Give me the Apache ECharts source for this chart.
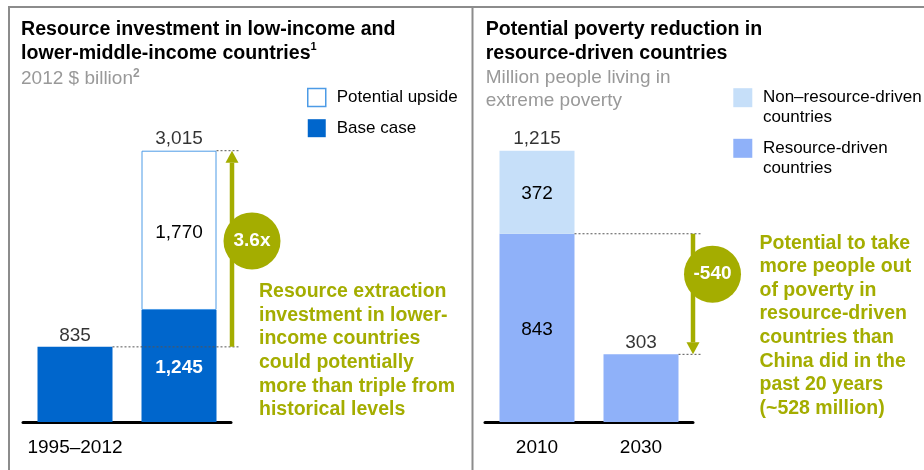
<!DOCTYPE html>
<html>
<head>
<meta charset="utf-8">
<style>body { margin: 0; }</style>
</head>
<body>
<div id="main" style="width:924px; height:470px;"></div>

<script src="https://cdn.jsdelivr.net/npm/echarts@6.0.0/dist/echarts.min.js"></script>
<script>
var leftCats = ['1995–2012', '2013–30'];
var leftBase = [835, 1245];
var leftUpside = [null, 1770];
var leftTotal = [835, 3015];

var rightCats = ['2010', '2030'];
var rightResource = [843, 303];
var rightNonResource = [372, null];
var rightTotal = [1215, 303];

var green = '#a4ad00';
var font = '"Liberation Sans", Arial, sans-serif';

var myChart = echarts.init(main);

function fmt(v) {
	return v == null ? '' : v.toLocaleString('en-US');
}

var axisX = {
	type: 'category',
	axisTick: { show: false },
	axisLine: { lineStyle: { color: '#000', width: 3 } },
	axisLabel: { fontSize: 19, color: '#000', margin: 16 }
};
var totalLabel = { show: true, position: 'top', distance: 2, fontSize: 19, color: '#000' };

myChart.setOption({
	animation: false,
	textStyle: { fontFamily: font },
	title: [
		{
			left: 21, top: 18, itemGap: 6, padding: 0,
			text: '{b|Resource investment in low-income and}\n{b|lower-middle-income countries}{s|1}',
			subtext: '{g|2012 $ billion}{s|2}',
			textStyle: {
				rich: {
					b: { fontSize: 19.6, fontWeight: 'bold', color: '#000', lineHeight: 23.7 },
					s: { fontSize: 11, color: '#000', lineHeight: 16, verticalAlign: 'top' }
				}
			},
			subtextStyle: {
				rich: {
					g: { fontSize: 19, color: '#999', lineHeight: 23 },
					s: { fontSize: 12, fontWeight: 'bold', color: '#999', lineHeight: 16, verticalAlign: 'top' }
				}
			}
		},
		{
			left: 485.7, top: 18, itemGap: 1, padding: 0,
			text: 'Potential poverty reduction in\nresource-driven countries',
			subtext: 'Million people living in\nextreme poverty',
			textStyle: { fontSize: 19.6, fontWeight: 'bold', color: '#000', lineHeight: 23.7 },
			subtextStyle: { fontSize: 19, color: '#999', lineHeight: 23 }
		}
	],
	legend: [
		{
			left: 307, top: 87.7, orient: 'vertical', padding: 0,
			itemWidth: 18, itemHeight: 18, itemGap: 12, icon: 'rect', selectedMode: false,
			textStyle: { fontSize: 17, color: '#000', padding: [0, 0, 0, 6] },
			data: [
				{ name: 'Potential upside', itemStyle: { color: '#fff', borderColor: '#4d9be6', borderWidth: 1.5 } },
				{ name: 'Base case' }
			]
		},
		{
			left: 733.3, top: 65.7, padding: 0,
			itemWidth: 19, itemHeight: 19, icon: 'rect', selectedMode: false,
			formatter: n => ' \n' + n,
			textStyle: { fontSize: 17, color: '#000', lineHeight: 20, padding: [4, 0, 0, 5.6] },
			data: ['Non–resource-driven\ncountries']
		},
		{
			left: 733.3, top: 116.3, padding: 0,
			itemWidth: 19, itemHeight: 19, icon: 'rect', selectedMode: false,
			formatter: n => ' \n' + n,
			textStyle: { fontSize: 17, color: '#000', lineHeight: 20, padding: [4, 0, 0, 5.6] },
			data: ['Resource-driven\ncountries']
		}
	],
	grid: [
		{ left: 23, top: 150.7, width: 208, bottom: 48 },
		{ left: 485, top: 150.7, width: 208, bottom: 48 }
	],
	xAxis: [
		Object.assign({ gridIndex: 0, data: leftCats }, axisX),
		Object.assign({ gridIndex: 1, data: rightCats }, axisX)
	],
	yAxis: [
		{ gridIndex: 0, type: 'value', min: 0, max: 3015, show: false },
		{ gridIndex: 1, type: 'value', min: 0, max: 1215, show: false }
	],
	series: [
		{
			name: 'Base case', type: 'bar', xAxisIndex: 0, yAxisIndex: 0, stack: 'l', barWidth: 75,
			data: leftBase,
			itemStyle: { color: '#0066cc' },
			label: {
				show: true, position: 'inside', offset: [0, 2], color: '#fff', fontWeight: 'bold', fontSize: 19,
				formatter: p => p.dataIndex === 1 ? fmt(p.value) : ''
			}
		},
		{
			name: 'Potential upside', type: 'bar', xAxisIndex: 0, yAxisIndex: 0, stack: 'l', barWidth: 75,
			data: leftUpside,
			itemStyle: { color: '#fff', borderColor: '#4d9be6', borderWidth: 1 },
			label: { show: true, position: 'inside', offset: [0, 2], color: '#000', fontSize: 19, formatter: p => fmt(p.value) }
		},
		{
			type: 'scatter', xAxisIndex: 0, yAxisIndex: 0, silent: true,
			data: leftTotal, symbolSize: 0, itemStyle: { color: 'transparent' },
			label: Object.assign({ formatter: p => fmt(p.value[1] != null ? p.value[1] : p.value) }, totalLabel)
		},
		{
			name: 'Resource-driven\ncountries', type: 'bar', xAxisIndex: 1, yAxisIndex: 1, stack: 'r', barWidth: 75,
			data: rightResource,
			itemStyle: { color: '#8fb1f9' },
			label: {
				show: true, position: 'inside', offset: [0, 2], color: '#000', fontSize: 19,
				formatter: p => p.dataIndex === 0 ? fmt(p.value) : ''
			}
		},
		{
			name: 'Non–resource-driven\ncountries', type: 'bar', xAxisIndex: 1, yAxisIndex: 1, stack: 'r', barWidth: 75,
			data: rightNonResource,
			itemStyle: { color: '#c6dff9' },
			label: { show: true, position: 'inside', offset: [0, 2], color: '#000', fontSize: 19, formatter: p => fmt(p.value) }
		},
		{
			type: 'scatter', xAxisIndex: 1, yAxisIndex: 1, silent: true,
			data: rightTotal, symbolSize: 0, itemStyle: { color: 'transparent' },
			label: Object.assign({ formatter: p => fmt(p.value[1] != null ? p.value[1] : p.value) }, totalLabel)
		}
	]
});

// annotations placed from the axes
function px(g, c, v) {
	return myChart.convertToPixel({ gridIndex: g }, [c, v]);
}
function dotted(x0, x1, y) {
	return { type: 'line', z: 10, shape: { x1: x0, y1: y, x2: x1, y2: y }, style: { stroke: '#555', lineWidth: 1, lineDash: [2, 2] } };
}
function arrow(x, y0, y1) {
	var dir = y1 > y0 ? 1 : -1;
	var base = y1 - dir * 12;
	return [
		{ type: 'line', z: 11, shape: { x1: x, y1: y0, x2: x, y2: base }, style: { stroke: green, lineWidth: 4.5 } },
		{ type: 'polygon', z: 11, shape: { points: [[x - 6.5, base], [x + 6.5, base], [x, y1]] }, style: { fill: green } }
	];
}
function badge(x, y, t) {
	return [
		{ type: 'circle', z: 12, shape: { cx: x, cy: y, r: 28.5 }, style: { fill: green } },
		{ type: 'text', z: 13, x: x, y: y, style: { text: t, fill: '#fff', font: 'bold 19px ' + font, align: 'center', verticalAlign: 'middle' } }
	];
}
function note(x, y, t) {
	return { type: 'text', z: 12, x: x, y: y, style: { text: t, fill: green, font: 'bold 19.5px ' + font, lineHeight: 23.6, verticalAlign: 'top' } };
}

var half = 37.5;
var l0 = px(0, 0, leftTotal[0]);
var l1 = px(0, 1, leftTotal[1]);
var r0 = px(1, 0, rightResource[0]);
var r1 = px(1, 1, rightTotal[1]);

var frame = { stroke: '#8c8c8c', lineWidth: 2 };

myChart.setOption({
	graphic: [].concat(
		{ type: 'line', shape: { x1: 8, y1: 7, x2: 924, y2: 7 }, style: frame },
		{ type: 'line', shape: { x1: 9, y1: 6, x2: 9, y2: 470 }, style: frame },
		{ type: 'line', shape: { x1: 472.5, y1: 6, x2: 472.5, y2: 470 }, style: frame },
		dotted(l0[0] + half, l1[0] + 59.5, l0[1]),
		dotted(l1[0] + half, l1[0] + 59.5, l1[1]),
		arrow(l1[0] + 53, l0[1], l1[1]),
		badge(l1[0] + 73, l0[1] + (l1[1] - l0[1]) * 0.54, '3.6x'),
		note(l1[0] + 80, 280, 'Resource extraction\ninvestment in lower-\nincome countries\ncould potentially\nmore than triple from\nhistorical levels'),
		dotted(r0[0] + half, r1[0] + 59.5, r0[1]),
		dotted(r1[0] + half, r1[0] + 59.5, r1[1]),
		arrow(r1[0] + 52, r0[1], r1[1]),
		badge(r1[0] + 71.5, r0[1] + (r1[1] - r0[1]) * 0.335, '-540'),
		note(r1[0] + 118.5, 231.5, 'Potential to take\nmore people out\nof poverty in\nresource-driven\ncountries than\nChina did in the\npast 20 years\n(~528 million)')
	)
});
</script>
</body>
</html>
